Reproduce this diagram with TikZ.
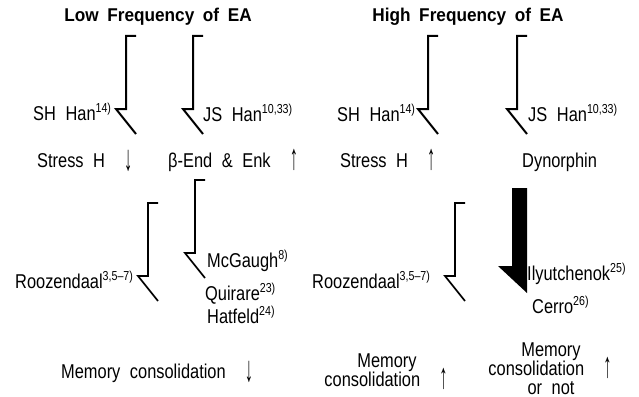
\documentclass[tikz,border=0pt]{standalone}
\usepackage{fontspec}
\usepackage{graphicx}
\setmainfont{Liberation Sans}[FakeStretch=0.82, WordSpace=2.1]
\newfontfamily\titlefont{Liberation Sans}[FakeStretch=0.93, WordSpace=1.8]
\newcommand\sx[1]{\raisebox{8pt}{\fontsize{13}{13}\selectfont #1}}
\newcommand\dnarr{\raisebox{-3pt}{\scalebox{1}[1.8]{↓}}}
\newcommand\uparr{\raisebox{-2pt}{\scalebox{1}[1.8]{↑}}}
\tikzset{
  lbl/.style={inner sep=0pt, anchor=base west, font=\fontsize{20}{19}\selectfont},
  lblc/.style={lbl, anchor=base},
  ttl/.style={inner sep=0pt, anchor=base, font=\titlefont\bfseries\fontsize{18.5}{19}\selectfont},
  pics/halfarr/.style={code={\draw[line join=miter, line cap=butt] (10,0) -- (0,0) -- (0,73) -- (-10,73) -- (10,98);}},
  thickarr/.style={line width=2pt},
  thinarr/.style={line width=1.7pt}
}
\begin{document}
\begin{tikzpicture}[x=1pt, y=-1pt]
\useasboundingbox (0,0) rectangle (639,396);
% titles
\node[ttl] (tl) at (158,22) {Low Frequency of EA};
\node[ttl] (th) at (468,22) {High Frequency of EA};
% upper half-arrows
\pic[thickarr] at (126,36) {halfarr};
\pic[thickarr] at (193,36) {halfarr};
\pic[thickarr] at (428,36) {halfarr};
\pic[thickarr] at (517,36) {halfarr};
% lower half-arrows
\pic[thinarr] at (148,203) {halfarr};
\pic[thinarr] at (195,180) {halfarr};
\pic[thinarr] at (455,203) {halfarr};
% labels
\node[lbl] (sh1) at (33,120) {SH Han\sx{14)}};
\node[lbl] (js1) at (203,121) {JS Han\sx{10,33)}};
\node[lbl] (st1) at (37,167) {Stress H\ \ \dnarr};
\node[lbl] (be) at (168,167) {β-End \& Enk\ \ \uparr};
\node[lbl] (sh2) at (337,121) {SH Han\sx{14)}};
\node[lbl] (js2) at (528,121) {JS Han\sx{10,33)}};
\node[lbl] (st2) at (340,167) {Stress H\ \ \uparr};
\node[lbl] (dy) at (522,167) {Dynorphin};
\node[lbl] (ro1) at (15,288) {Roozendaal\sx{3,5–7)}};
\node[lbl] (mc) at (207,267) {McGaugh\sx{8)}};
\node[lbl] (qu) at (205,300) {Quirare\sx{23)}};
\node[lbl] (ha) at (207,323) {Hatfeld\sx{24)}};
\node[lbl] (mem1) at (61,378) {Memory consolidation\ \ \dnarr};
\node[lbl] (ro2) at (312,288) {Roozendaal\sx{3,5–7)}};
\node[lbl] (il) at (527,280) {Ilyutchenok\sx{25)}};
\node[lbl] (ce) at (532,313) {Cerro\sx{26)}};
\node[lblc] (m2a) at (387,367) {Memory};
\node[lblc] (m2b) at (386,386) {consolidation\ \ \uparr};
\node[lblc] (m3a) at (551,356) {Memory};
\node[lblc] (m3b) at (550,375) {consolidation\ \ \uparr};
\node[lblc] (m3c) at (551,394) {or not};
% big filled half-arrow
\fill (512,188) -- (527,188) -- (527,293) -- (498,266) -- (512,266) -- cycle;
\end{tikzpicture}
\end{document}
